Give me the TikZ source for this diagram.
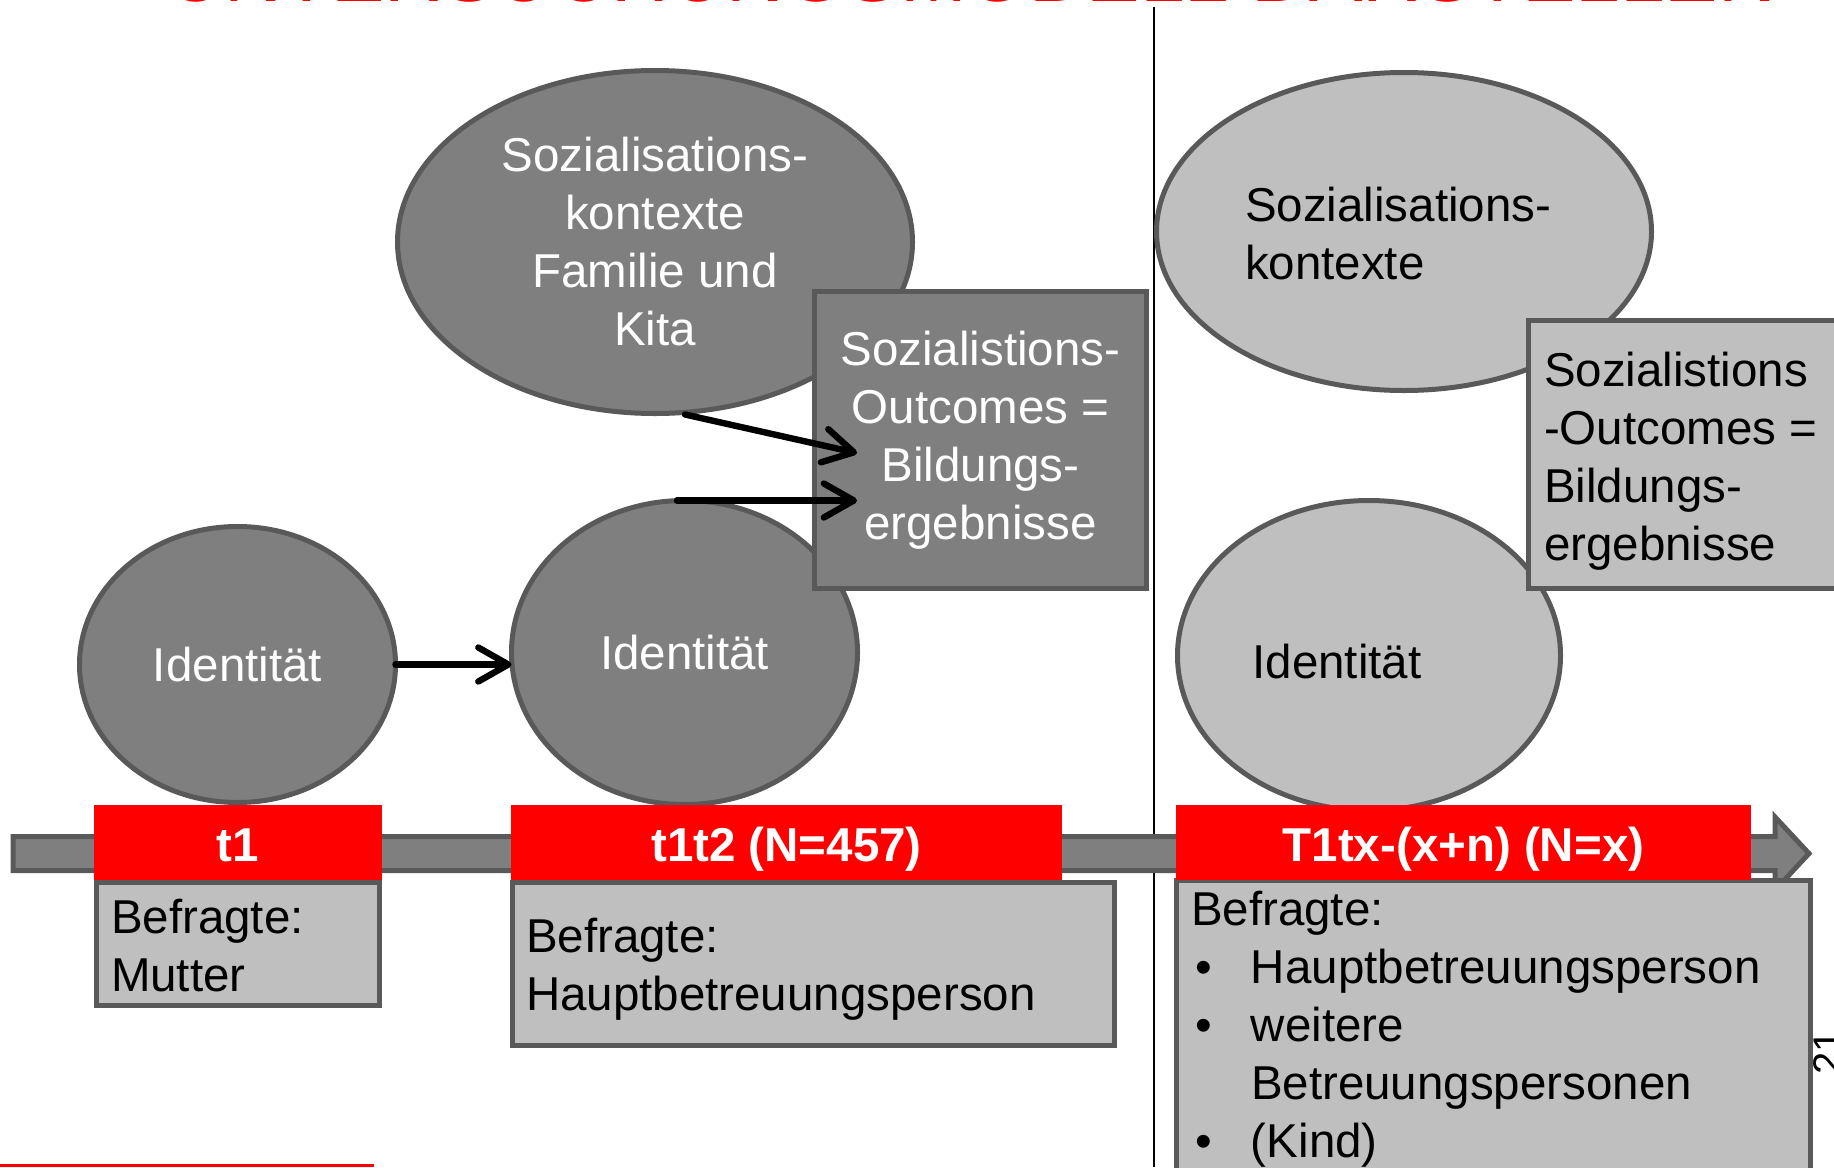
\documentclass[tikz,border=0pt]{standalone}
\usepackage{fontspec}
\setmainfont{Liberation Sans}
\usetikzlibrary{arrows.meta,shapes.geometric,calc}
\definecolor{dkfill}{HTML}{7F7F7F}
\definecolor{bord}{HTML}{595959}
\definecolor{ltfill}{HTML}{BFBFBF}
\definecolor{tred}{HTML}{FF0000}
\begin{document}
\begin{tikzpicture}[x=0.5pt,y=-0.5pt,
  every node/.style={inner sep=0pt,outer sep=0pt},
  txt/.style={font=\fontsize{23.75}{29}\selectfont},
  shp/.style={draw=bord,line width=2.5pt},
  darkell/.style={shp,ellipse,fill=dkfill,text=white,txt,align=center},
  lightell/.style={shp,ellipse,fill=ltfill},
  darkbox/.style={shp,rectangle,fill=dkfill,text=white,txt,align=center},
  lightbox/.style={shp,rectangle,fill=ltfill},
  redlabel/.style={rectangle,fill=tred,text=white,text height=18.5pt,text depth=0pt,font=\fontsize{23.75}{29}\selectfont\bfseries},
  lefttext/.style={txt,anchor=base west,align=left},
  conn/.style={line width=3.2pt,line cap=round,-{Straight Barb[length=15pt,width=17pt,round]}}
]
\useasboundingbox (0,0) rectangle (1834,1167);
\node[anchor=base west,text=tred,font=\fontsize{40}{44}\selectfont] (title) at (167,2) {UNTERSUCHUNGSMODELL DARSTELLEN};
\draw[line width=1pt] (1154,7) -- (1154,1167);

% left group
\node[darkell,minimum width=257.5pt,minimum height=171.5pt] (soz) at (655,242) {Sozialisations-\\kontexte\\Familie und\\Kita};
\node[darkell,minimum width=173pt,minimum height=152pt] (id2) at (684.5,652.5) {Identität};
\node[darkbox,minimum width=166pt,minimum height=148.5pt] (outc) at (980.5,440) {Sozialistions-\\Outcomes =\\Bildungs-\\ergebnisse};
\node[darkell,minimum width=158pt,minimum height=138pt] (id1) at (237.5,664.5) {Identität};

% right group
\node[lightell,minimum width=247.5pt,minimum height=159pt] (soz2) at (1404,231.5) {};
\node[lightell,minimum width=191.5pt,minimum height=155pt] (id3) at (1369,655.5) {};
\node[lightbox,minimum width=185.5pt,minimum height=134pt] (outc2) at (1714,454.5) {};
\node[lefttext] (soz2t) at (1245,279) {Sozialisations-\\kontexte};
\node[lefttext] (outc2t) at (1544,560) {Sozialistions\\-Outcomes =\\Bildungs-\\ergebnisse};
\node[txt] (id3t) at (1337,662) {Identität};

% timeline
\draw[fill=dkfill,draw=bord,line width=2.5pt] (13,836.5) -- (1775,836.5) -- (1775,817) -- (1809,853.5) -- (1775,890) -- (1775,870.5) -- (13,870.5) -- cycle;

\node[rotate=90,anchor=base,font=\fontsize{20}{24}\selectfont] (pgnum) at (1841,1052) {21};

\node[lightbox,minimum width=141.5pt,minimum height=61.5pt] (befA) at (238,944) {};
\node[lightbox,minimum width=301pt,minimum height=81.5pt] (befB) at (813.5,964) {};
\node[lightbox,minimum width=317pt,minimum height=184.5pt] (befC) at (1493.5,1065) {};

\node[redlabel,minimum width=144pt,minimum height=37.5pt] (t1) at (238,842.5) {t1};
\node[redlabel,minimum width=275.5pt,minimum height=37.5pt] (t1t2) at (786.5,842.5) {t1t2 (N=457)};
\node[redlabel,minimum width=287.5pt,minimum height=37.5pt] (t1tx) at (1463.5,842.5) {T1tx-(x+n) (N=x)};

\node[lefttext] (befAt) at (111,991) {Befragte:\\Mutter};
\node[lefttext] (befBt) at (526,1010) {Befragte:\\Hauptbetreuungsperson};
\node[lefttext] (befCt) at (1191,1157) {Befragte:\\\makebox[30pt][l]{\hspace{2pt}•}Hauptbetreuungsperson\\\makebox[30pt][l]{\hspace{2pt}•}weitere\\\hspace*{30pt}Betreuungspersonen\\\makebox[30pt][l]{\hspace{2pt}•}(Kind)};

% connectors
\draw[conn] ($(soz.south)+(30,1)$) -- ($(outc.west)+(42.5,13)$);
\draw[conn] ($(id2.north)+(-7.5,0)$) -- ($(id2.north -| outc.west)+(42.5,0)$);
\draw[conn] (id1.east) -- (id1.east -| id2.west);

\fill[tred] (0,1164) rectangle (374,1167);
\end{tikzpicture}
\end{document}
